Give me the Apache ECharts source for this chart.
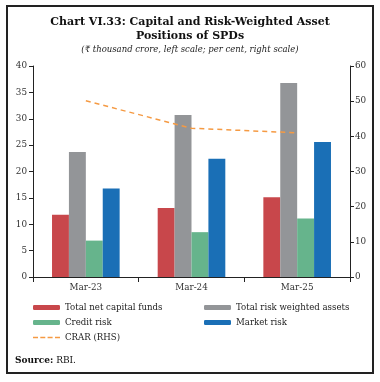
<!DOCTYPE html>
<html><head><meta charset="utf-8">
<script src="https://cdn.jsdelivr.net/npm/echarts@6/dist/echarts.min.js"></script>
<style>html,body{margin:0;padding:0;background:#fff}#c{width:380px;height:382px}</style>
</head><body><div id="c"></div>
<script>
const categories = ['Mar-23', 'Mar-24', 'Mar-25'];
const netCapital = [11.8, 13.1, 15.1];
const totalRWA = [23.7, 30.7, 36.8];
const creditRisk = [6.9, 8.5, 11.1];
const marketRisk = [16.8, 22.4, 25.6];
const crar = [50.1, 42.3, 41.0];
const leftTicks = [0, 5, 10, 15, 20, 25, 30, 35, 40];
const rightTicks = [0, 10, 20, 30, 40, 50, 60];

const F = '"DejaVu Serif", "Liberation Serif", serif';
const chart = echarts.init(document.getElementById('c'), null, {renderer: 'canvas'});
const names = ['Total net capital funds', 'Total risk weighted assets', 'Credit risk', 'Market risk', 'CRAR (RHS)'];
const colors = ['#C8474B', '#939598', '#66B48C', '#1A6FB6', '#F59A43'];
const legendPos = [[33, 303], [204, 303], [33, 318], [204, 318], [33, 333]];
const axisLbl = {fontFamily: F, fontSize: 8.8, color: '#333'};
const dashIcon = 'path://M0,0h5v1.5h-5z M7.3,0h5v1.5h-5z M14.6,0h5v1.5h-5z M22,0h5v1.5h-5z';

chart.setOption({
  animation: false,
  graphic: [
    {type: 'rect', shape: {x: 7, y: 6, width: 366, height: 367}, style: {fill: 'none', stroke: '#222', lineWidth: 2}},
    {type: 'text', x: 190, y: 22, style: {text: 'Chart VI.33: Capital and Risk-Weighted Asset', font: 'bold 11px ' + F, fill: '#111', align: 'center', verticalAlign: 'middle'}},
    {type: 'text', x: 190, y: 36, style: {text: 'Positions of SPDs', font: 'bold 11px ' + F, fill: '#111', align: 'center', verticalAlign: 'middle'}},
    {type: 'text', x: 190, y: 50, style: {text: '(\u20b9 thousand crore, left scale; per cent, right scale)', font: 'italic 8.5px ' + F, fill: '#222', align: 'center', verticalAlign: 'middle'}},
    {type: 'text', x: 15, y: 361, style: {text: '{b|Source:} RBI.', rich: {b: {font: 'bold 9px ' + F, fill: '#111'}}, font: '9px ' + F, fill: '#111', verticalAlign: 'middle'}}
  ],
  legend: names.map((n, i) => ({
    data: [i === 4 ? {name: n, icon: dashIcon, itemStyle: {color: colors[4]}} : n],
    left: legendPos[i][0], top: legendPos[i][1], itemWidth: 27, itemHeight: i === 4 ? 1.5 : 5, itemGap: 5,
    padding: 0, textStyle: {fontFamily: F, fontSize: 8.6, color: '#222'}
  })),
  grid: {left: 33, right: 30, top: 66, bottom: 105},
  xAxis: {
    type: 'category', data: categories,
    axisLine: {lineStyle: {color: '#222'}},
    axisTick: {show: true, alignWithLabel: false, length: 5, lineStyle: {color: '#222'}},
    axisLabel: Object.assign({margin: 6}, axisLbl)
  },
  yAxis: [
    {type: 'value', min: 0, max: 40, interval: 5, splitLine: {show: false},
     axisLine: {show: true, lineStyle: {color: '#222'}}, axisTick: {show: true, length: 4, lineStyle: {color: '#222'}},
     axisLabel: Object.assign({margin: 6}, axisLbl)},
    {type: 'value', min: 0, max: 60, interval: 10, splitLine: {show: false}, position: 'right',
     axisLine: {show: true, lineStyle: {color: '#222'}}, axisTick: {show: true, length: 4, lineStyle: {color: '#222'}},
     axisLabel: Object.assign({margin: 5}, axisLbl)}
  ],
  series: [
    {name: names[0], type: 'bar', data: netCapital, itemStyle: {color: colors[0]}, barGap: '0%', barCategoryGap: '36%'},
    {name: names[1], type: 'bar', data: totalRWA, itemStyle: {color: colors[1]}},
    {name: names[2], type: 'bar', data: creditRisk, itemStyle: {color: colors[2]}},
    {name: names[3], type: 'bar', data: marketRisk, itemStyle: {color: colors[3]}},
    {name: names[4], type: 'line', yAxisIndex: 1, data: crar, symbol: 'none',
     lineStyle: {color: colors[4], width: 1.5, type: [5, 4]}, itemStyle: {color: colors[4]},
     label: {show: true, position: 'right', distance: 6, fontFamily: F, fontSize: 8.8, color: colors[4],
       formatter: p => p.dataIndex === crar.length - 1 ? p.value.toFixed(1) : ''}}
  ]
});
</script></body></html>
